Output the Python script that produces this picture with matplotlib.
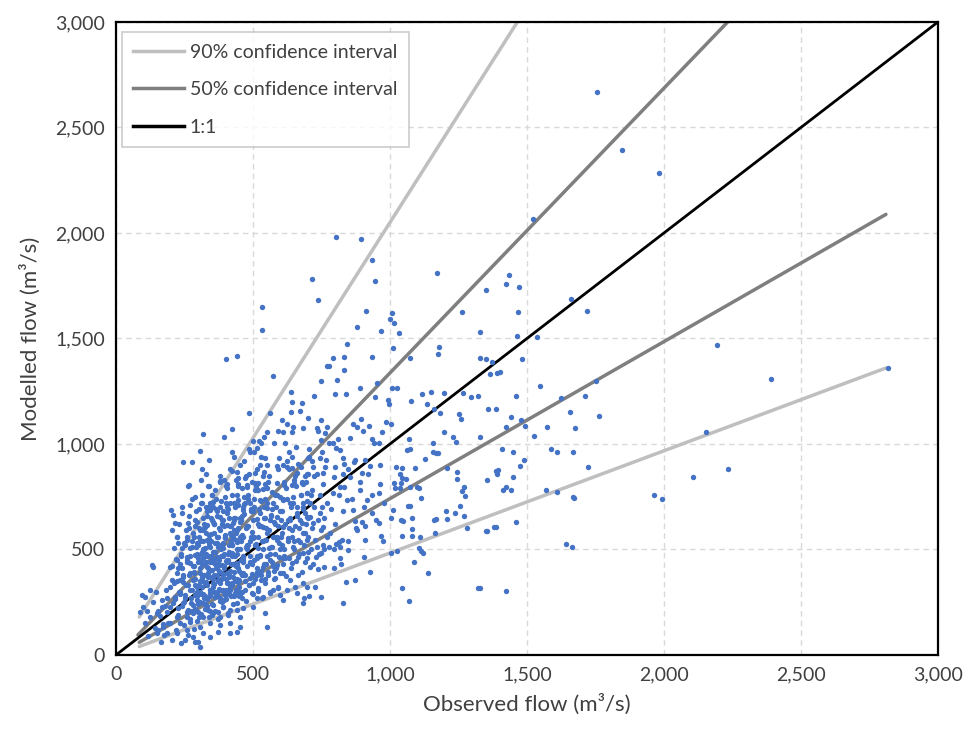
import numpy as np
import matplotlib
matplotlib.use('Agg')
import matplotlib.pyplot as plt
from matplotlib.lines import Line2D

plt.rcParams['font.family'] = ['Lato', 'DejaVu Sans']

observed_flow = [
    1755, 1845, 1980, 1522, 2193, 2390, 2153, 2106, 2232, 1964, 1991, 2816,
    1460, 1547, 1358, 1387, 1442, 1478, 1423, 1493, 1624, 1712, 1657, 1763,
    1573, 1675, 1526, 1328, 1409, 1449, 1588, 1609, 1668, 1489, 1474, 1387,
    1394, 1449, 1723, 1423, 1412, 1442, 1569, 1609, 1668, 1671, 1354, 1387,
    1460, 1642, 1664, 1328, 1423, 1434, 1423, 1471, 1467, 1661, 1719, 1464,
    1536, 1482, 1401, 1752, 803, 894, 934, 715, 945, 737, 1172, 912,
    1007, 1000, 1015, 880, 967, 1033, 1263, 1350, 1328, 401, 442, 533,
    533, 573, 639, 642, 679, 485, 562, 639, 672, 701, 606, 624,
    646, 423, 318, 394, 551, 591, 609, 642, 682, 540, 500, 522,
    529, 577, 617, 657, 485, 515, 307, 423, 431, 245, 277, 339,
    467, 504, 544, 595, 631, 642, 701, 314, 328, 442, 471, 507,
    540, 588, 609, 624, 642, 661, 675, 701, 310, 263, 339, 394,
    405, 445, 478, 507, 518, 544, 613, 650, 679,
    843, 1011, 1179, 1175, 792, 832, 934, 1073, 1328, 1350, 770, 777,
    832, 1372, 1365, 1391, 748, 807, 953, 891, 1007, 1026, 723, 799,
    839, 945, 1117, 1150, 1197, 1266, 1296, 1321, 993, 996, 1077, 1135,
    1161, 1182, 1252, 1259, 748, 894, 985, 1004, 734, 770, 865, 880,
    923, 738, 763, 901, 971, 1197, 1230, 748, 810, 854, 934, 1069,
    777, 792, 942, 960, 1157, 1241, 704, 803, 818, 1062, 1073, 1157,
    1168, 1175, 752, 715, 745, 766, 828, 872, 909, 1128, 763, 799,
    832, 869, 927, 1022, 1044, 1091, 1208, 697, 723, 755, 796, 828,
    854, 898, 1036, 1044, 1058, 1245, 1245, 1354, 1391, 682, 755, 832,
    964, 1015, 1040, 1073, 1098, 1270,
    960, 1018, 1036, 1106, 1263, 1274, 1113, 1073, 1066, 1011, 1204, 1237,
    1255, 1270, 1004, 1040, 1047, 1080, 1168, 1161, 1208, 1281, 1350, 1380,
    1080, 1164, 1109, 1044, 1080, 967, 974, 1106, 1113, 1120, 1026, 1004,
    1088, 1139, 1044, 1069, 1321, 847, 905, 927, 872, 839, 828, 818,
    821, 796, 759, 737, 730, 748, 726, 704, 748, 686, 682, 814,
    847, 818, 796, 759, 909, 909, 960, 872, 880, 898, 825, 803,
    777, 734, 697, 708, 690, 719, 745, 770, 792, 818, 843, 865,
    891, 916, 934, 755, 781, 697, 682, 708,
    266, 335, 380, 349, 288, 398, 440, 477, 513, 550, 586, 641,
    678, 201, 209, 215, 240, 270, 294, 264, 313, 355, 343, 380,
    416, 446, 465, 489, 525, 550, 574, 611, 647, 684, 696,
    203, 221, 227, 240, 258, 282, 307, 331, 355, 380, 404, 428,
    453, 477, 501, 525, 538, 562, 586, 611, 635, 659, 678, 696,
    276, 294, 313, 331, 343, 367, 392, 416, 440, 459, 483, 501,
    519, 544, 568, 586, 605, 629, 647, 671, 690,
    130, 136, 124, 106, 94, 197, 203, 221, 240, 234, 258, 270,
    288, 300, 319, 331, 349, 367, 386, 404, 422, 440, 465, 489,
    513, 538, 562, 586, 611, 641, 665, 690, 702,
    221, 246, 270, 282, 294, 313, 325, 343, 355, 373, 392, 410,
    428, 446, 465, 489, 513, 531, 556, 580, 611, 635, 665, 684,
    653, 623, 592, 599, 562, 538, 519, 495, 470, 459, 434, 416,
    398, 380, 361, 343, 325, 307, 288, 270, 252, 234, 215, 197,
    209, 228, 246, 264, 282, 300, 319, 337, 355, 373, 392, 416,
    440, 465, 453, 410, 380, 349, 319, 282, 258, 221, 185, 167,
    100, 88, 148, 197, 234, 270, 307, 343, 380, 416, 453, 513,
    501, 544, 550, 574, 659, 696, 611, 185, 221, 258, 282, 319,
    343, 373, 307, 288, 252, 173, 148, 416, 440,
]
modelled_flow = [
    2668, 2393, 2284, 2068, 1469, 1308, 1055, 842, 883, 756, 741, 1360,
    1227, 1275, 1166, 1166, 1128, 1114, 1081, 1085, 1218, 1227, 1152, 1133,
    1081, 1076, 1038, 1033, 976, 962, 976, 962, 962, 924, 896, 872,
    877, 844, 891, 796, 782, 782, 782, 773, 749, 744, 588, 607,
    630, 526, 512, 318, 303, 1803, 1758, 1744, 1626, 1687, 1630, 1512,
    1507, 1403, 1341, 1299, 1981, 1972, 1872, 1782, 1772, 1682, 1810, 1630,
    1621, 1592, 1573, 1554, 1535, 1526, 1626, 1730, 1531, 1403, 1417, 1649,
    1540, 1322, 1246, 1199, 1194, 1147, 1147, 1152, 1156, 1123, 1114, 1095,
    1081, 1071, 1047, 1033, 1057, 1062, 1057, 1057, 1076, 1033, 1014, 1014,
    1005, 1005, 1005, 986, 976, 981, 967, 962, 938, 915, 915, 924,
    919, 962, 934, 934, 962, 938, 934, 881, 858, 867, 839, 863,
    867, 896, 900, 891, 886, 863, 891, 858, 829, 801, 801, 829,
    810, 810, 796, 815, 815, 810, 806, 815, 815,
    1474, 1455, 1460, 1427, 1408, 1412, 1412, 1408, 1408, 1403, 1370, 1370,
    1351, 1389, 1332, 1336, 1299, 1303, 1289, 1265, 1265, 1265, 1227, 1237,
    1237, 1223, 1237, 1246, 1242, 1242, 1223, 1227, 1208, 1190, 1204, 1190,
    1166, 1147, 1142, 1118, 1114, 1118, 1104, 1095, 1076, 1081, 1095, 1081,
    1085, 1062, 1052, 1062, 1057, 1057, 1033, 1019, 1024, 1028, 1024, 1024,
    1005, 1005, 1005, 1005, 1005, 1009, 976, 981, 971, 971, 976, 962,
    957, 957, 962, 919, 934, 924, 934, 924, 924, 929, 891, 891,
    905, 915, 896, 891, 886, 886, 886, 858, 848, 863, 844, 858,
    844, 863, 858, 839, 834, 867, 834, 829, 858, 810, 810, 796,
    810, 815, 815, 796, 796, 796,
    768, 789, 791, 791, 777, 754, 744, 706, 706, 687, 682, 673,
    706, 659, 649, 640, 635, 649, 645, 640, 645, 602, 588, 607,
    597, 578, 559, 564, 564, 564, 540, 507, 493, 483, 493, 483,
    441, 389, 318, 256, 318, 498, 464, 393, 355, 346, 246, 460,
    431, 412, 417, 408, 464, 483, 322, 280, 275, 270, 246, 536,
    540, 512, 502, 502, 545, 611, 626, 635, 592, 630, 545, 526,
    512, 512, 768, 720, 673, 626, 673, 720, 768, 796, 735, 687,
    782, 735, 673, 607, 578, 545, 483, 417,
    806, 803, 826, 758, 751, 751, 758, 806, 782, 790, 814, 806,
    822, 687, 664, 624, 672, 711, 632, 627, 719, 727, 687, 703,
    719, 735, 687, 719, 735, 695, 719, 735, 751, 719, 766,
    593, 561, 529, 506, 545, 577, 593, 616, 632, 656, 672, 624,
    648, 608, 640, 672, 608, 640, 656, 608, 640, 672, 624, 656,
    514, 529, 490, 545, 514, 561, 529, 577, 537, 569, 521, 553,
    506, 545, 514, 561, 521, 553, 514, 537, 577,
    427, 416, 308, 277, 284, 416, 356, 450, 411, 356, 466, 435,
    474, 442, 458, 419, 442, 466, 427, 450, 482, 435, 466, 435,
    458, 419, 450, 427, 458, 435, 466, 442, 490,
    387, 371, 387, 356, 324, 371, 340, 371, 324, 356, 379, 340,
    371, 348, 387, 363, 395, 356, 379, 363, 387, 356, 379, 340,
    324, 308, 316, 284, 292, 277, 316, 292, 308, 269, 292, 308,
    284, 308, 277, 292, 277, 300, 284, 308, 284, 300, 277, 324,
    245, 221, 245, 213, 237, 205, 245, 213, 237, 205, 229, 213,
    245, 221, 182, 190, 182, 190, 182, 198, 182, 182, 205, 229,
    229, 205, 198, 150, 150, 158, 134, 150, 142, 150, 134, 269,
    229, 198, 134, 308, 292, 324, 261, 103, 103, 119, 87, 103,
    87, 111, 40, 63, 71, 134, 103, 103, 111,
]

# dichter Kern der Punktwolke (geschätzt)
core_observed = [
    152, 160, 168, 175, 182, 190, 196, 204, 210, 214, 219, 226, 231, 236, 240,
    245, 249, 253, 258, 262, 266, 270, 274, 279, 283, 286, 290, 294, 297, 300,
    302, 305, 307, 309, 312, 314, 317, 319, 321, 324, 326, 328, 331, 333, 335,
    338, 340, 342, 344, 347, 349, 351, 353, 356, 358, 360, 362, 365, 367, 369,
    371, 374, 376, 378, 380, 383, 385, 387, 389, 392, 394, 396, 398, 401, 403,
    405, 407, 410, 412, 414, 416, 419, 421, 423, 425, 428, 430, 432, 434, 437,
    439, 441, 443, 446, 448, 450,
    452, 455, 458, 460, 463, 465, 468, 470, 473, 475, 478, 480, 483, 485, 488,
    490, 493, 495, 498, 500, 503, 505, 508, 510, 513, 515, 518, 520, 523, 525,
    528, 530, 533, 535, 538, 540, 543, 545, 548, 550, 553, 555, 558, 560, 563,
    565, 568, 570, 573, 575, 578, 580, 583, 585, 588, 590, 593, 595, 598, 600,
    603, 606, 609, 612, 615, 618, 621, 624, 627, 630, 633, 636, 639, 642, 645,
    648, 651, 654, 657, 660, 663, 666, 669, 672, 675, 678, 681, 684, 687, 690,
    693, 696, 699, 702, 705, 708, 711, 714, 717, 720, 724, 728, 732, 736, 740,
    744, 748, 752, 756, 760,
    205, 212, 218, 224, 230, 236, 242, 248, 254, 260, 266, 272, 278, 284, 290,
    296, 302, 308, 314, 320, 326, 332, 338, 344, 350,
    105, 112, 118, 126, 134, 141, 147, 155, 163, 171, 178, 186,
    355, 362, 370, 378, 385, 393, 400, 408, 415, 423, 430, 438, 445, 453, 460,
    468, 475, 483, 490, 498, 505, 513, 520, 528, 535, 543, 550,
    770, 785, 800, 815, 830, 845, 860, 875, 890, 905, 920, 935, 950, 965, 980,
    222, 228, 233, 239, 244, 251, 256, 261, 268, 273,
    277, 281, 288, 292, 296, 299, 303, 306, 311, 315,
    318, 322, 325, 329, 332, 336, 339, 343, 346, 350,
    354, 357, 361, 364, 368, 372, 375, 379, 382, 386,
    390, 393, 397, 400, 404, 408, 411, 415, 418, 422,
    426, 429, 433, 436, 440, 444, 447, 451, 454, 458,
    462, 466, 470, 474, 479, 484, 489, 494, 499, 504,
    509, 514, 519, 524, 529, 534, 539, 544, 549, 555,
    561, 567, 573, 579, 585, 591, 597, 604, 611, 618,
    625, 632, 640, 648, 656,
    235, 247, 259, 264, 271, 276, 284, 289, 294, 301,
    304, 309, 313, 316, 320, 327, 330, 334, 337, 341,
    345, 348, 352, 355, 359, 363, 366, 370, 373, 377,
    381, 384, 388, 391, 395, 399, 402, 406, 409, 413,
    417, 420, 424, 427, 431, 435, 438, 442, 445, 449,
    453, 456, 460, 464, 468, 472, 477, 481, 486, 491,
    496, 501, 506, 511, 516, 521, 526, 531, 537, 542,
    547, 552, 558, 564, 570, 576, 582, 588, 594, 600,
    607, 614, 621, 628, 636, 644, 652, 660, 668, 676,
    684, 692, 700, 710, 720,
    283, 287, 291, 295, 298, 302, 305, 308, 311, 314,
    317, 320, 323, 326, 329, 332, 335, 338, 341, 344,
    347, 350, 353, 356, 359, 362, 365, 368, 371, 374,
    377, 380, 383, 386, 389, 392, 395, 398, 401, 404,
    407, 410, 413, 416, 419, 422, 425, 428, 431, 434,
    437, 440, 443, 446, 449, 452, 455, 458, 461, 464,
]
core_modelled = [
    120, 185, 260, 95, 310, 150, 228, 72, 340, 265, 118, 190, 300, 58, 232,
    345, 140, 270, 205, 95, 380, 170, 245, 310, 125, 395, 220, 160, 280, 60,
    330, 410, 250, 480, 195, 365, 540, 290, 430, 220, 605, 345, 470, 265, 390,
    515, 180, 440, 310, 575, 240, 405, 490, 335, 620, 210, 455, 285, 380, 530,
    170, 420, 315, 590, 255, 470, 360, 640, 225, 505, 300, 410, 555, 265, 445,
    340, 615, 200, 490, 380, 285, 570, 430, 330, 520, 240, 650, 395, 470, 310,
    545, 215, 425, 600, 355, 280,
    500, 390, 640, 300, 560, 440, 715, 350, 510, 255, 610, 420, 760, 330, 540,
    470, 680, 385, 585, 290, 450, 740, 360, 525, 645, 410, 305, 560, 690, 475,
    380, 610, 270, 500, 785, 430, 650, 340, 545, 470, 720, 395, 590, 505, 300,
    665, 440, 770, 560, 360, 630, 480, 700, 410, 545, 320, 610, 465, 750, 390,
    560, 680, 430, 820, 500, 620, 375, 740, 540, 460, 880, 650, 410, 590, 720,
    500, 830, 610, 445, 700, 545, 905, 480, 640, 760, 395, 580, 690, 520, 850,
    620, 460, 730, 560, 940, 655, 500, 780, 600, 430, 700, 545, 860, 640, 480,
    760, 590, 700, 520, 650,
    420, 505, 455, 560, 620, 480, 700, 530, 590, 440, 660, 505, 740, 560, 610,
    470, 690, 545, 760, 600, 505, 680, 570, 720, 640,
    150, 210, 90, 180, 250, 130, 300, 210, 60, 145, 230, 270,
    700, 780, 660, 850, 730, 610, 800, 690, 880, 760, 640, 830, 710, 900, 790,
    670, 850, 740, 960, 820, 700, 880, 780, 940, 850, 740, 900,
    560, 690, 620, 760, 680, 880, 740, 600, 820, 700, 860, 760, 640, 900, 720,
    350, 410, 290, 470, 380, 520, 330, 450, 600, 270,
    540, 420, 360, 680, 480, 240, 560, 390, 720, 320,
    500, 620, 280, 440, 660, 370, 530, 210, 470, 760,
    340, 580, 430, 690, 300, 510, 400, 820, 360, 620,
    470, 260, 560, 720, 390, 480, 650, 320, 540, 870,
    430, 590, 350, 700, 500, 800, 410, 560, 290, 640,
    470, 750, 380, 600, 520, 860, 440, 690, 340, 560,
    780, 470, 620, 900, 400, 540, 700, 360, 600, 820,
    480, 660, 420, 760, 560, 880, 500, 640, 740, 460,
    920, 600, 700, 540, 800,
    430, 250, 560, 330, 470, 210, 390, 640, 300, 520,
    180, 440, 350, 590, 270, 480, 700, 230, 410, 550,
    310, 650, 460, 200, 380, 530, 740, 290, 430, 600,
    340, 500, 250, 680, 420, 560, 310, 790, 450, 370,
    610, 280, 520, 430, 720, 350, 580, 480, 840, 400,
    300, 550, 660, 450, 380, 720, 500, 610, 330, 560,
    430, 680, 520, 800, 380, 610, 470, 730, 540, 650,
    430, 580, 850, 510, 690, 400, 620, 760, 530, 680,
    580, 470, 790, 640, 720, 560, 850, 660, 600, 760,
    700, 820, 650, 760, 890,
    420, 330, 510, 260, 460, 600, 350, 540, 290, 430,
    650, 380, 500, 240, 580, 330, 470, 700, 400, 280,
    540, 460, 360, 620, 300, 490, 410, 680, 350, 560,
    450, 270, 520, 390, 640, 310, 480, 570, 360, 440,
    700, 300, 520, 400, 610, 340, 470, 560, 280, 650,
    420, 360, 590, 500, 320, 630, 450, 540, 380, 700,
]

# Vertrauensbereiche: Endpunkte der Linien (x, y)
ci90_upper_x = [85, 1470]
ci90_upper_y = [180, 3010]
ci50_upper_x = [80, 2240]
ci50_upper_y = [95, 3010]
ci50_lower_x = [85, 2810]
ci50_lower_y = [60, 2088]
ci90_lower_x = [85, 2810]
ci90_lower_y = [40, 1360]
one_to_one = [0, 3000]

ticks = [0, 500, 1000, 1500, 2000, 2500, 3000]
tick_labels = ['0', '500', '1,000', '1,500', '2,000', '2,500', '3,000']

fig = plt.figure(figsize=(9.68, 7.31), dpi=100)
ax = fig.add_axes([0.1198, 0.104, 0.8492, 0.866])

c90 = '#BFBFBF'
c50 = '#7F7F7F'
ax.plot(ci90_upper_x, ci90_upper_y, color=c90, lw=2.5, solid_capstyle='round', zorder=2)
ax.plot(ci90_lower_x, ci90_lower_y, color=c90, lw=2.5, solid_capstyle='round', zorder=2)
ax.plot(ci50_upper_x, ci50_upper_y, color=c50, lw=2.5, solid_capstyle='round', zorder=2)
ax.plot(ci50_lower_x, ci50_lower_y, color=c50, lw=2.5, solid_capstyle='round', zorder=2)
ax.plot(one_to_one, one_to_one, color='black', lw=2.0, zorder=2)

ax.scatter(observed_flow + core_observed, modelled_flow + core_modelled,
           s=15, color='#4472C4', linewidths=0, zorder=3)

ax.set_xlim(0, 3000)
ax.set_ylim(0, 3000)
ax.set_xticks(ticks)
ax.set_yticks(ticks)
ax.set_xticklabels(tick_labels)
ax.set_yticklabels(tick_labels)
ax.tick_params(length=0, labelsize=14, colors='#404040', pad=8)
ax.grid(True, color='#D9D9D9', ls=(0, (4, 3)), lw=1, zorder=0)
for s in ax.spines.values():
    s.set_linewidth(1.6)
    s.set_color('black')

ax.set_xlabel('Observed flow (m³/s)', fontsize=16, color='#404040', labelpad=8)
ax.set_ylabel('Modelled flow (m³/s)', fontsize=16, color='#404040', labelpad=10)

handles = [
    Line2D([], [], color=c90, lw=2.5),
    Line2D([], [], color=c50, lw=2.5),
    Line2D([], [], color='black', lw=2.5),
]
leg = ax.legend(handles, ['90% confidence interval', '50% confidence interval', '1:1'],
                loc='upper left', bbox_to_anchor=(0.007, 0.984), borderaxespad=0,
                fontsize=14, frameon=True, fancybox=False, edgecolor='#BFBFBF',
                handlelength=2.6, labelspacing=1.05, borderpad=0.6, handletextpad=0.3)
leg.get_frame().set_linewidth(1.2)
for t in leg.get_texts():
    t.set_color('#404040')

fig.savefig('out.png', dpi=100)
